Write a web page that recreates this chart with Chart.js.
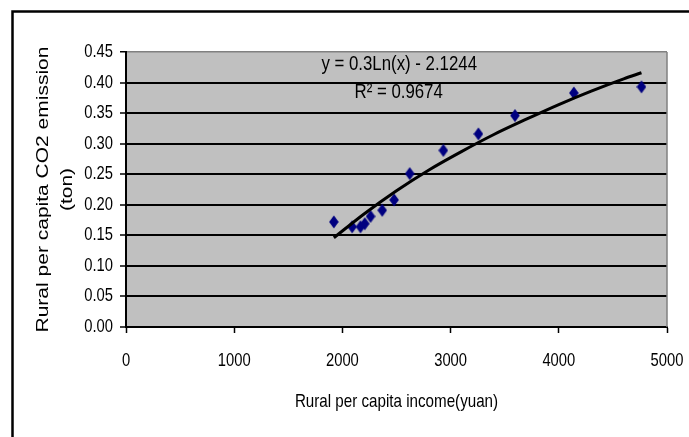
<!DOCTYPE html>
<html>
<head>
<meta charset="utf-8">
<script src="https://cdn.jsdelivr.net/npm/chart.js@4"></script>
<style>
  html, body { margin: 0; padding: 0; background: #ffffff; }
  #wrap { position: relative; width: 689px; height: 437px; }
</style>
</head>
<body>
<div id="wrap"><canvas id="c" width="689" height="437"></canvas></div>
<script>
// ---- data ----
const incomeX = [1921, 2090, 2167, 2207, 2260, 2368, 2478, 2622, 2933, 3257, 3595, 4139, 4764];
const emissionY = [0.172, 0.164, 0.164, 0.169, 0.181, 0.191, 0.208, 0.251, 0.289, 0.316, 0.346, 0.383, 0.393];
const trendX = [1921, 2200, 2500, 2800, 3100, 3400, 3700, 4000, 4300, 4600, 4764];
const trendY = [0.146, 0.185, 0.223, 0.257, 0.287, 0.315, 0.340, 0.364, 0.386, 0.406, 0.416];
const xTicks = [0, 1000, 2000, 3000, 4000, 5000];
const yTicks = [0.00, 0.05, 0.10, 0.15, 0.20, 0.25, 0.30, 0.35, 0.40, 0.45];
const equationText = 'y = 0.3Ln(x) - 2.1244';
const r2Text = 'R\u00B2 = 0.9674';
const xTitle = 'Rural per capita income(yuan)';
const yTitle = ['Rural per capita CO2 emission', '(ton)'];

const SANS = "'Liberation Sans', Arial, sans-serif";
const SQX = 0.82; // horizontal squeeze of the reference's lettering

const canvas = document.getElementById('c');
const c2d = canvas.getContext('2d');
// draw every text horizontally condensed about its own anchor (still real text)
(function () {
  const orig = c2d.fillText.bind(c2d);
  c2d.fillText = function (text, x, y, maxWidth) {
    const m = c2d.getTransform();
    const p = m.transformPoint(new DOMPoint(x, y));
    c2d.save();
    c2d.setTransform(new DOMMatrix().translate(p.x, p.y).scale(SQX, 1).translate(-p.x, -p.y).multiply(m));
    if (maxWidth === undefined) orig(text, x, y); else orig(text, x, y, maxWidth / SQX);
    c2d.restore();
  };
})();

// diamond marker (taller than wide, like the reference)
const dia = document.createElement('canvas');
dia.width = 10; dia.height = 14;
(function () {
  const d = dia.getContext('2d');
  d.fillStyle = '#000080';
  d.beginPath();
  d.moveTo(5, 0.5); d.lineTo(9.8, 7); d.lineTo(5, 13.5); d.lineTo(0.2, 7);
  d.closePath(); d.fill();
})();

const frame = {
  id: 'frame',
  beforeDraw(chart) {
    const { ctx, chartArea: a } = chart;
    ctx.save();
    ctx.fillStyle = '#C0C0C0';
    ctx.fillRect(a.left, a.top, a.right - a.left, a.bottom - a.top);
    ctx.strokeStyle = '#000';
    ctx.lineWidth = 2.5;
    ctx.strokeRect(12.5, 11.5, 720, 460);
    ctx.restore();
  },
  beforeDatasetsDraw(chart) {
    const { ctx, chartArea: a } = chart;
    ctx.save();
    ctx.strokeStyle = '#808080';
    ctx.lineWidth = 1.5;
    ctx.beginPath();
    ctx.moveTo(a.right, a.top);
    ctx.lineTo(a.right, a.bottom);
    ctx.stroke();
    ctx.restore();
  },
  afterDraw(chart) {
    const { ctx } = chart;
    const xs = chart.scales.x, ys = chart.scales.y;
    ctx.save();
    ctx.fillStyle = '#000';
    ctx.textAlign = 'center';
    ctx.textBaseline = 'alphabetic';
    ctx.font = '20.5px ' + SANS;
    ctx.fillText(equationText, xs.getPixelForValue(2525), ys.getPixelForValue(0.4202));
    ctx.fillText(r2Text, xs.getPixelForValue(2520), ys.getPixelForValue(0.3749));
    ctx.restore();
  }
};

new Chart(canvas, {
  type: 'scatter',
  data: {
    datasets: [
      {
        label: 'trend',
        data: trendX.map((x, i) => ({ x, y: trendY[i] })),
        showLine: true,
        borderColor: '#000',
        borderWidth: 3,
        pointRadius: 0,
        cubicInterpolationMode: 'monotone',
        fill: false
      },
      {
        label: 'data',
        data: incomeX.map((x, i) => ({ x, y: emissionY[i] })),
        pointStyle: dia,
        pointRadius: 6,
        backgroundColor: '#000080',
        borderColor: '#000080'
      }
    ]
  },
  options: {
    responsive: false,
    animation: false,
    devicePixelRatio: 1,
    layout: { padding: { left: 0, top: 52, right: 22, bottom: 0 } },
    plugins: { legend: { display: false }, tooltip: { enabled: false } },
    scales: {
      x: {
        type: 'linear',
        min: xTicks[0],
        max: xTicks[xTicks.length - 1],
        afterBuildTicks(s) { s.ticks = xTicks.map(v => ({ value: v })); },
        afterFit(s) { s.height = 110; s.paddingLeft = 0; s.paddingRight = 0; },
        ticks: {
          color: '#000',
          font: { family: SANS, size: 18 },
          padding: 17,
          maxRotation: 0,
          autoSkip: false,
          callback: v => String(v)
        },
        grid: { drawOnChartArea: false, drawTicks: true, tickLength: 6, tickColor: '#000', tickWidth: 1.5 },
        border: { color: '#000', width: 2 },
        title: {
          display: true,
          text: xTitle,
          color: '#000',
          font: { family: SANS, size: 18.5 },
          padding: { top: 0, bottom: 24 }
        }
      },
      y: {
        type: 'linear',
        min: yTicks[0],
        max: yTicks[yTicks.length - 1],
        afterBuildTicks(s) { s.ticks = yTicks.map(v => ({ value: v })); },
        afterFit(s) { s.width = 126; s.paddingTop = 0; s.paddingBottom = 0; },
        ticks: {
          color: '#000',
          font: { family: SANS, size: 18 },
          padding: 7,
          autoSkip: false,
          callback: v => Number(v).toFixed(2)
        },
        grid: {
          color: c => (c.tick && Math.abs(c.tick.value - 0.45) < 1e-9) ? '#808080' : '#000',
          lineWidth: c => (c.tick && Math.abs(c.tick.value - 0.45) < 1e-9) ? 1.5 : 2,
          tickColor: '#000',
          tickLength: 6,
          tickWidth: 1.5
        },
        border: { color: '#000', width: 2 },
        title: {
          display: true,
          text: yTitle,
          color: '#000',
          font: { family: SANS, size: 21, lineHeight: 1.143 },
          padding: { top: 31, bottom: 0 }
        }
      }
    }
  },
  plugins: [frame]
});
</script>
</body>
</html>
